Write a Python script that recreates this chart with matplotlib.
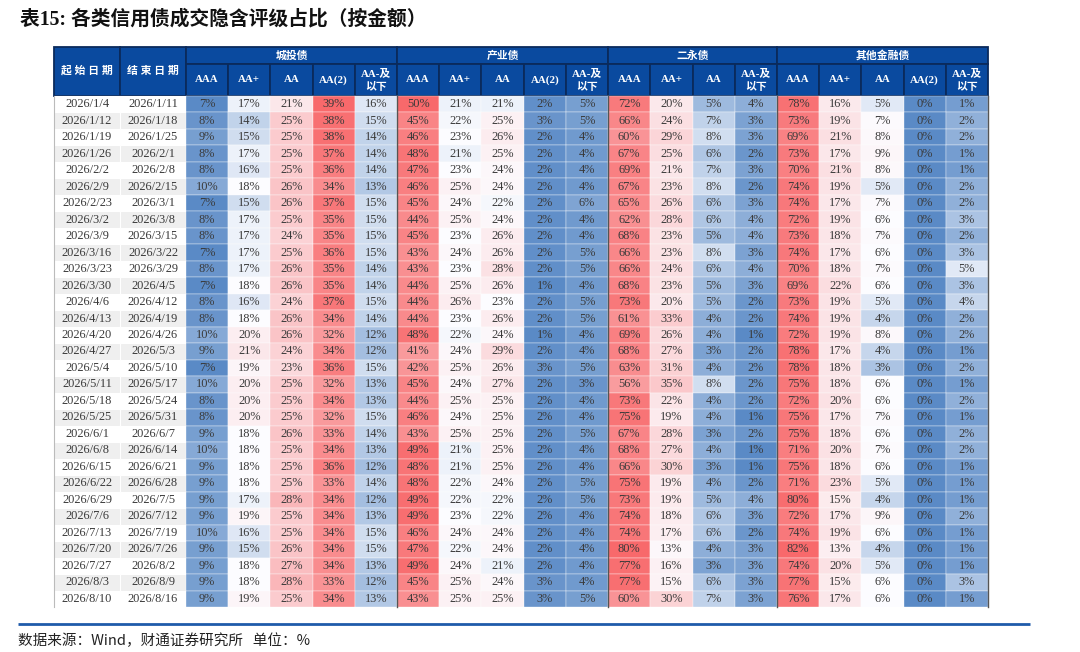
import numpy as np
import matplotlib
matplotlib.use('Agg')
import matplotlib.pyplot as plt
from matplotlib.patches import Rectangle
from matplotlib.colors import to_rgb

start_dates = ['2026/1/4', '2026/1/12', '2026/1/19', '2026/1/26', '2026/2/2', '2026/2/9',
               '2026/2/23', '2026/3/2', '2026/3/9', '2026/3/16', '2026/3/23', '2026/3/30',
               '2026/4/6', '2026/4/13', '2026/4/20', '2026/4/27', '2026/5/4', '2026/5/11',
               '2026/5/18', '2026/5/25', '2026/6/1', '2026/6/8', '2026/6/15', '2026/6/22',
               '2026/6/29', '2026/7/6', '2026/7/13', '2026/7/20', '2026/7/27', '2026/8/3',
               '2026/8/10']
end_dates = ['2026/1/11', '2026/1/18', '2026/1/25', '2026/2/1', '2026/2/8', '2026/2/15',
             '2026/3/1', '2026/3/8', '2026/3/15', '2026/3/22', '2026/3/29', '2026/4/5',
             '2026/4/12', '2026/4/19', '2026/4/26', '2026/5/3', '2026/5/10', '2026/5/17',
             '2026/5/24', '2026/5/31', '2026/6/7', '2026/6/14', '2026/6/21', '2026/6/28',
             '2026/7/5', '2026/7/12', '2026/7/19', '2026/7/26', '2026/8/2', '2026/8/9',
             '2026/8/16']

group_names = ['城投债', '产业债', '二永债', '其他金融债']
sub_labels = [
    ['AAA', 'AA+', 'AA', 'AA(2)', 'AA-及\n以下'],
    ['AAA', 'AA+', 'AA', 'AA(2)', 'AA-及\n以下'],
    ['AAA', 'AA+', 'AA', 'AA-及\n以下'],
    ['AAA', 'AA+', 'AA', 'AA(2)', 'AA-及\n以下'],
]

# 城投债: AAA, AA+, AA, AA(2), AA-及以下
chengtou = [
    [7, 17, 21, 39, 16], [8, 14, 25, 38, 15], [9, 15, 25, 38, 14], [8, 17, 25, 37, 14],
    [8, 16, 25, 36, 14], [10, 18, 26, 34, 13], [7, 15, 26, 37, 15], [8, 17, 25, 35, 15],
    [8, 17, 24, 35, 15], [7, 17, 25, 36, 15], [8, 17, 26, 35, 14], [7, 18, 26, 35, 14],
    [8, 16, 24, 37, 15], [8, 18, 26, 34, 14], [10, 20, 26, 32, 12], [9, 21, 24, 34, 12],
    [7, 19, 23, 36, 15], [10, 20, 25, 32, 13], [8, 20, 25, 34, 13], [8, 20, 25, 32, 15],
    [9, 18, 26, 33, 14], [10, 18, 25, 34, 13], [9, 18, 25, 36, 12], [9, 18, 25, 33, 14],
    [9, 17, 28, 34, 12], [9, 19, 25, 34, 13], [10, 16, 25, 34, 15], [9, 15, 26, 34, 15],
    [9, 18, 27, 34, 13], [9, 18, 28, 33, 12], [9, 19, 25, 34, 13],
]
# 产业债: AAA, AA+, AA, AA(2), AA-及以下
chanye = [
    [50, 21, 21, 2, 5], [45, 22, 25, 3, 5], [46, 23, 26, 2, 4], [48, 21, 25, 2, 4],
    [47, 23, 24, 2, 4], [46, 25, 24, 2, 4], [45, 24, 22, 2, 6], [44, 25, 24, 2, 4],
    [45, 23, 26, 2, 4], [43, 24, 26, 2, 5], [43, 23, 28, 2, 5], [44, 25, 26, 1, 4],
    [44, 26, 23, 2, 5], [44, 23, 26, 2, 5], [48, 22, 24, 1, 4], [41, 24, 29, 2, 4],
    [42, 25, 26, 3, 5], [45, 24, 27, 2, 3], [44, 25, 25, 2, 4], [46, 24, 25, 2, 4],
    [43, 25, 25, 2, 5], [49, 21, 25, 2, 4], [48, 21, 25, 2, 4], [48, 22, 24, 2, 5],
    [49, 22, 22, 2, 5], [49, 23, 22, 2, 4], [46, 24, 24, 2, 4], [47, 22, 24, 2, 4],
    [49, 24, 21, 2, 4], [45, 25, 24, 3, 4], [43, 25, 25, 3, 5],
]
# 二永债: AAA, AA+, AA, AA-及以下
eryong = [
    [72, 20, 5, 4], [66, 24, 7, 3], [60, 29, 8, 3], [67, 25, 6, 2], [69, 21, 7, 3],
    [67, 23, 8, 2], [65, 26, 6, 3], [62, 28, 6, 4], [68, 23, 5, 4], [66, 23, 8, 3],
    [66, 24, 6, 4], [68, 23, 5, 3], [73, 20, 5, 2], [61, 33, 4, 2], [69, 26, 4, 1],
    [68, 27, 3, 2], [63, 31, 4, 2], [56, 35, 8, 2], [73, 22, 4, 2], [75, 19, 4, 1],
    [67, 28, 3, 2], [68, 27, 4, 1], [66, 30, 3, 1], [75, 19, 4, 2], [73, 19, 5, 4],
    [74, 18, 6, 3], [74, 17, 6, 2], [80, 13, 4, 3], [77, 16, 3, 3], [77, 15, 6, 3],
    [60, 30, 7, 3],
]
# 其他金融债: AAA, AA+, AA, AA(2), AA-及以下
qita = [
    [78, 16, 5, 0, 1], [73, 19, 7, 0, 2], [69, 21, 8, 0, 2], [73, 17, 9, 0, 1],
    [70, 21, 8, 0, 1], [74, 19, 5, 0, 2], [74, 17, 7, 0, 2], [72, 19, 6, 0, 3],
    [73, 18, 7, 0, 2], [74, 17, 6, 0, 3], [70, 18, 7, 0, 5], [69, 22, 6, 0, 3],
    [73, 19, 5, 0, 4], [74, 19, 4, 0, 2], [72, 19, 8, 0, 2], [78, 17, 4, 0, 1],
    [78, 18, 3, 0, 2], [75, 18, 6, 0, 1], [72, 20, 6, 0, 2], [75, 17, 7, 0, 1],
    [75, 18, 6, 0, 2], [71, 20, 7, 0, 2], [75, 18, 6, 0, 1], [71, 23, 5, 0, 1],
    [80, 15, 4, 0, 1], [72, 17, 9, 0, 2], [74, 19, 6, 0, 1], [82, 13, 4, 0, 1],
    [74, 20, 5, 0, 1], [77, 15, 6, 0, 3], [76, 17, 6, 0, 1],
]

blocks = [chengtou, chanye, eryong, qita]

# excel style 3-colour scale (min / 50th pct / max), one scale per block
LOW, MID, HIGH = to_rgb('#5A8AC6'), to_rgb('#FCFCFF'), to_rgb('#F8696B')


def block_colors(block):
    arr = np.array(block, dtype=float)
    lo, mid, hi = arr.min(), np.percentile(arr, 50), arr.max()
    out = np.zeros(arr.shape + (3,))
    for idx, v in np.ndenumerate(arr):
        if v <= mid:
            t = 0.0 if mid == lo else (v - lo) / (mid - lo)
            c = [LOW[k] + (MID[k] - LOW[k]) * t for k in range(3)]
        else:
            t = (v - mid) / (hi - mid)
            c = [MID[k] + (HIGH[k] - MID[k]) * t for k in range(3)]
        out[idx] = c
    return out


fig = plt.figure(figsize=(10.8, 6.52), dpi=100)
ax = fig.add_axes([0, 0, 1, 1])
ax.set_xlim(0, 1080)
ax.set_ylim(652, 0)
ax.axis('off')

serif_cjk = ['Liberation Serif', 'Noto Sans CJK SC']
HEAD_BLUE = '#0A4A9F'
HEAD_EDGE = '#0A2A5C'
TXT = '#3A3A3A'

# layout
x0, date_w = 54, 66
data_x0, data_x1 = 186, 988
ncols = sum(len(b[0]) for b in blocks)
col_w = (data_x1 - data_x0) / ncols
top, h1, h2 = 47, 17, 32
body_top, body_bot = top + h1 + h2, 607
nrows = len(start_dates)
row_h = (body_bot - body_top) / nrows

# title
ax.text(20, 19, '表15: 各类信用债成交隐含评级占比（按金额）', fontsize=14.2, fontweight='bold',
        family=serif_cjk, va='center', ha='left', color='#111111')

# header: date columns
for i, lab in enumerate(['起 始 日 期', '结 束 日 期']):
    xl = x0 + i * date_w
    ax.add_patch(Rectangle((xl, top), date_w, h1 + h2, facecolor=HEAD_BLUE, edgecolor=HEAD_EDGE, lw=1.3))
    ax.text(xl + date_w / 2, top + (h1 + h2) / 2 - 1, lab, color='white', fontsize=7.8, fontweight='bold',
            family=serif_cjk, ha='center', va='center')

# header: groups and sub labels
col = 0
for g, name in enumerate(group_names):
    n = len(sub_labels[g])
    gx = data_x0 + col * col_w
    ax.add_patch(Rectangle((gx, top), n * col_w, h1, facecolor=HEAD_BLUE, edgecolor=HEAD_EDGE, lw=1.3))
    ax.text(gx + n * col_w / 2, top + h1 / 2, name, color='white', fontsize=7.8, fontweight='bold',
            family=serif_cjk, ha='center', va='center')
    for j, lab in enumerate(sub_labels[g]):
        cx = gx + j * col_w
        ax.add_patch(Rectangle((cx, top + h1), col_w, h2, facecolor=HEAD_BLUE, edgecolor=HEAD_EDGE, lw=1.3))
        ax.text(cx + col_w / 2, top + h1 + h2 / 2, lab, color='white', fontsize=7.8, fontweight='bold',
                family=serif_cjk, ha='center', va='center', linespacing=1.45)
    col += n

# body: dates
for r in range(nrows):
    y = body_top + r * row_h
    bg = '#FFFFFF' if r % 2 == 0 else '#EFEFEF'
    for i, lab in enumerate([start_dates[r], end_dates[r]]):
        xl = x0 + i * date_w
        ax.add_patch(Rectangle((xl, y), date_w, row_h, facecolor=bg, edgecolor='white', lw=0.8))
        ax.text(xl + date_w / 2, y + row_h / 2, lab, fontsize=8.9, family='Liberation Serif',
                color=TXT, ha='center', va='center')

# body: coloured value cells
col = 0
sep_x = []
for block in blocks:
    colors = block_colors(block)
    n = len(block[0])
    for r in range(nrows):
        y = body_top + r * row_h
        for j in range(n):
            cx = data_x0 + (col + j) * col_w
            ax.add_patch(Rectangle((cx, y), col_w, row_h, facecolor=colors[r, j], edgecolor='white', lw=0.25))
            ax.text(cx + col_w / 2, y + row_h / 2, f'{block[r][j]}%', fontsize=8.9,
                    family='Liberation Serif', color=TXT, ha='center', va='center')
    col += n
    sep_x.append(data_x0 + col * col_w)

for sx in sep_x:
    ax.plot([sx, sx], [body_top, body_bot], color='#555555', lw=1.0)
ax.plot([x0, x0], [body_top, body_bot], color='#BBBBBB', lw=0.8)

# footer
ax.plot([18, 1030], [624, 624], color='#1F5BAA', lw=2.0, solid_capstyle='butt')
ax.text(18, 641, '数据来源：Wind，财通证券研究所   单位：%', fontsize=10.5,
        family=['Noto Sans CJK SC', 'DejaVu Sans'], color='#222222', ha='left', va='center')

fig.savefig('out.png', dpi=100)
